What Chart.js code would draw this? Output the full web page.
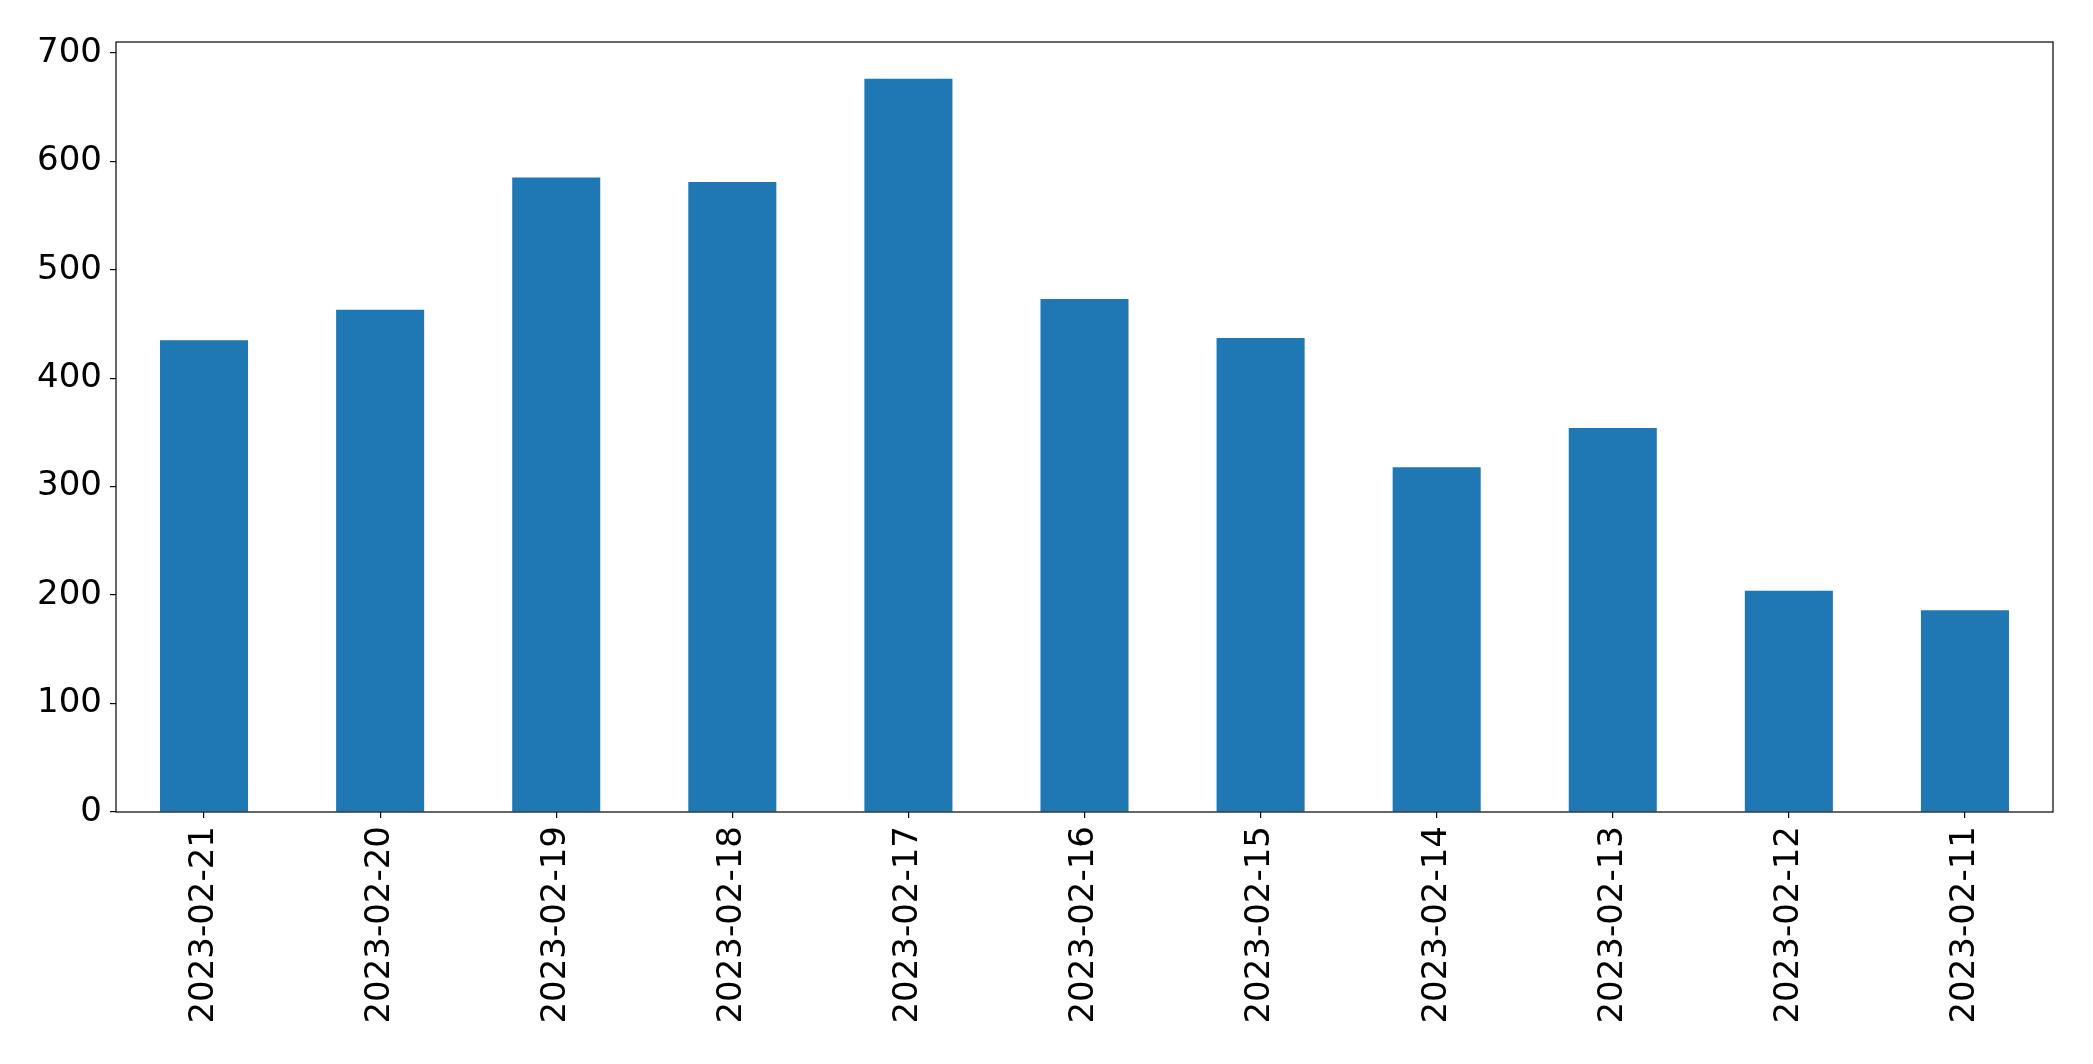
<!DOCTYPE html>
<html>
<head>
<meta charset="utf-8">
<script src="https://cdn.jsdelivr.net/npm/chart.js@4/dist/chart.umd.min.js"></script>
<style>
  html, body { margin: 0; padding: 0; background: #fff; }
</style>
</head>
<body>
<canvas id="chart1" width="2093" height="1064"></canvas>
<script>
// data
const dates = ['2023-02-21', '2023-02-20', '2023-02-19', '2023-02-18', '2023-02-17', '2023-02-16',
               '2023-02-15', '2023-02-14', '2023-02-13', '2023-02-12', '2023-02-11'];
const counts = [435, 463, 585, 581, 676, 473, 437, 318, 354, 204, 186];
const yTicks = [0, 100, 200, 300, 400, 500, 600, 700];

const fontFamily = "'DejaVu Sans', sans-serif";

// draw the full box around the plot like matplotlib does
const frame = {
    id: 'frame',
    afterDraw(chart) {
        const a = chart.chartArea;
        const ctx = chart.ctx;
        ctx.save();
        ctx.strokeStyle = '#000';
        ctx.lineWidth = 1.2;
        ctx.strokeRect(a.left, a.top, a.right - a.left, a.bottom - a.top);
        ctx.restore();
    }
};

const ctx = document.getElementById('chart1').getContext('2d');
new Chart(ctx, {
    type: 'bar',
    data: {
        labels: dates,
        datasets: [{
            label: 'Count',
            data: counts,
            backgroundColor: '#1f77b4',
            borderWidth: 0,
            barPercentage: 0.5,
            categoryPercentage: 1.0,
        }],
    },
    options: {
        responsive: false,
        animation: false,
        layout: { padding: { top: 42, right: 40, left: 0, bottom: 0 } },
        plugins: { legend: { display: false }, tooltip: { enabled: false } },
        scales: {
            x: {
                offset: true,
                grid: { offset: false, drawOnChartArea: false, tickLength: 6, color: '#000', lineWidth: 1.2 },
                border: { display: false },
                ticks: {
                    color: '#000',
                    font: { family: fontFamily, size: 34 },
                    minRotation: 90,
                    maxRotation: 90,
                    autoSkip: false,
                    padding: 8,
                },
                afterFit(scale) { scale.height = 252; },
            },
            y: {
                min: 0,
                max: 710,
                grid: { drawOnChartArea: false, tickLength: 6, color: '#000', lineWidth: 1.2 },
                border: { display: false },
                ticks: {
                    color: '#000',
                    font: { family: fontFamily, size: 34 },
                    autoSkip: false,
                    padding: 8,
                },
                afterBuildTicks(scale) { scale.ticks = yTicks.map(v => ({ value: v })); },
                afterFit(scale) { scale.width = 116; },
            },
        },
    },
    plugins: [frame],
});
</script>
</body>
</html>
